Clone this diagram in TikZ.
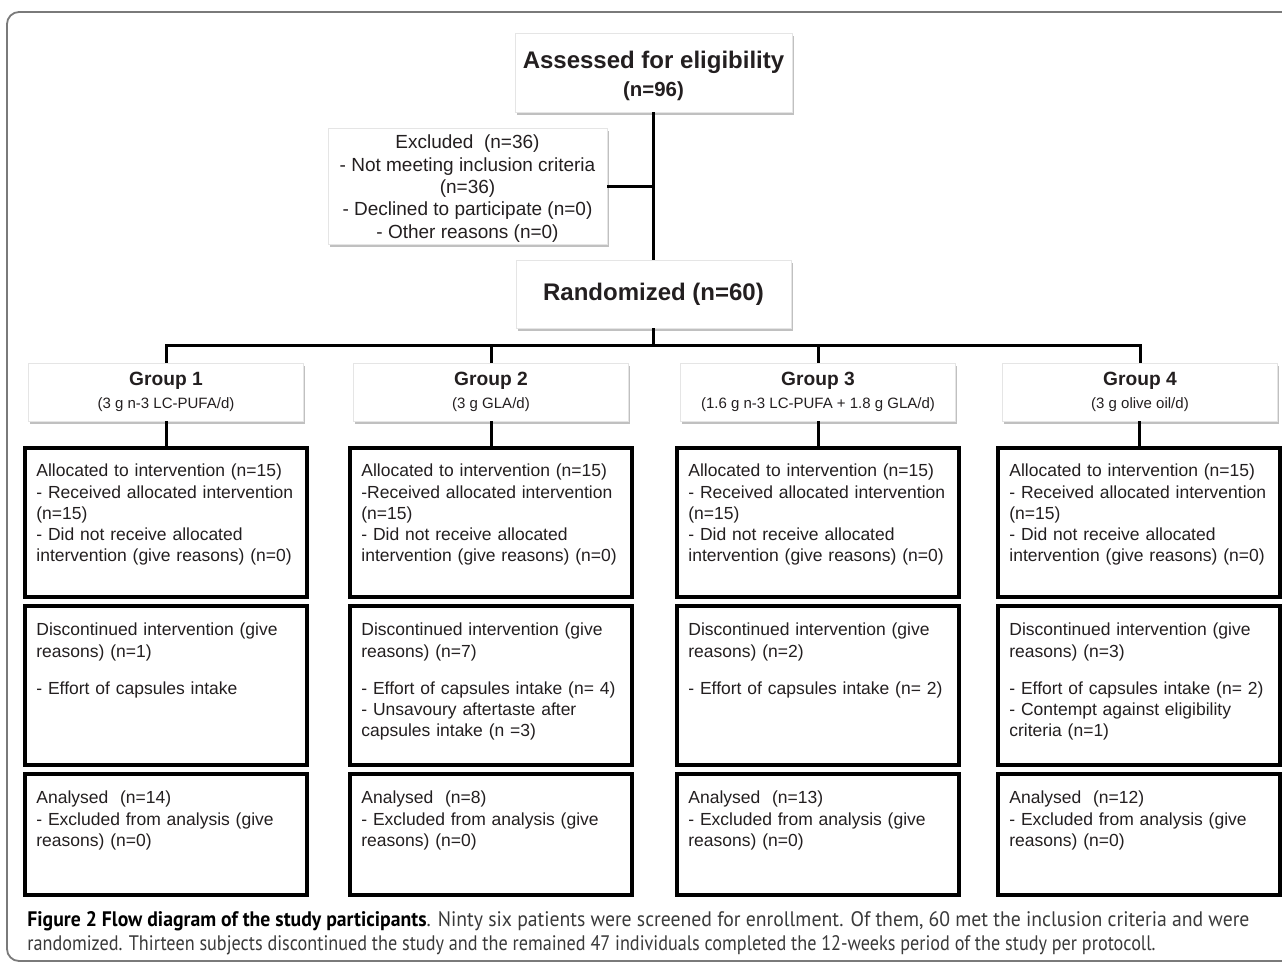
\documentclass[tikz,border=0pt]{standalone}
\usepackage{fontspec}
\setmainfont{Liberation Sans}
\newfontfamily\capfont{PT Sans}
\usepackage{graphicx}
\usetikzlibrary{shadows}
\definecolor{ink}{HTML}{231F20}
\definecolor{capink}{HTML}{3A3A3A}
\definecolor{framegray}{HTML}{7A7A7A}

\begin{document}
\begin{tikzpicture}[x=0.5pt, y=-0.5pt, >=stealth,
	soft/.style={rectangle, draw=black!10, line width=0.4pt, fill=white, text=ink, align=center, inner sep=0pt,
		drop shadow={shadow xshift=0.9pt, shadow yshift=-1.4pt, opacity=0.35, fill=black!70}},
	grp/.style={soft, minimum width=137.5pt, minimum height=29pt, font=\fontsize{7.5}{11.5}\selectfont},
	stage/.style={rectangle, draw=black, line width=1.8pt, anchor=north, text=ink, align=left,
		text width=129.6pt, inner xsep=5.7pt, inner ysep=0pt, font=\fontsize{8.75}{10.6}\selectfont},
	link/.style={draw=black, line width=1.5pt}]

	\path[use as bounding box, fill=white] (0,0) rectangle (1282,965);
	\clip (0,0) rectangle (1282,965);
	\draw[framegray, line width=0.9pt, rounded corners=6pt] (7,12) rectangle (1300,961);

	% top of the flow
	\node[soft, minimum width=138.5pt, minimum height=39.5pt, font=\fontsize{10.2}{13}\selectfont]
	(ass) at (653.5,72.5) {\rule{0pt}{12pt}{\fontsize{12}{14}\selectfont\bfseries Assessed for eligibility}\\[1pt]\bfseries (n=96)};
	\node[soft, minimum width=139.5pt, minimum height=58pt, font=\fontsize{9.5}{11.2}\selectfont]
	(exc) at (467.5,186) {\rule{0pt}{9.5pt}Excluded~ (n=36)\\- Not meeting inclusion criteria\\(n=36)\\
		- Declined to participate (n=0)\\- Other reasons (n=0)};
	\node[soft, minimum width=137.5pt, minimum height=34pt, font=\fontsize{12}{14}\selectfont\bfseries]
	(ran) at (653.5,294) {Randomized (n=60)};

	% groups
	\node[grp] (g1) at (166,392) {{\fontsize{9.6}{11.5}\selectfont\bfseries Group 1}\\(3 g n-3 LC-PUFA/d)};
	\node[grp] (g2) at (491,392) {{\fontsize{9.6}{11.5}\selectfont\bfseries Group 2}\\(3 g GLA/d)};
	\node[grp] (g3) at (818,392) {{\fontsize{9.6}{11.5}\selectfont\bfseries Group 3}\\(1.6 g n-3 LC-PUFA + 1.8 g GLA/d)};
	\node[grp] (g4) at (1140,392) {{\fontsize{9.6}{11.5}\selectfont\bfseries Group 4}\\(3 g olive oil/d)};

	% allocation
	\node[stage, text height=14.5pt, text depth=60pt] (al1) at (166,446)
	{Allocated to intervention (n=15)\\- Received allocated intervention\\(n=15)\\- Did not receive allocated\\intervention (give reasons) (n=0)};
	\node[stage, text height=14.5pt, text depth=60pt] (al2) at (491,446)
	{Allocated to intervention (n=15)\\-Received allocated intervention\\(n=15)\\- Did not receive allocated\\intervention (give reasons) (n=0)};
	\node[stage, text height=14.5pt, text depth=60pt] (al3) at (818,446)
	{Allocated to intervention (n=15)\\- Received allocated intervention\\(n=15)\\- Did not receive allocated\\intervention (give reasons) (n=0)};
	\node[stage, text height=14.5pt, text depth=60pt] (al4) at (1139,446)
	{Allocated to intervention (n=15)\\- Received allocated intervention\\(n=15)\\- Did not receive allocated\\intervention (give reasons) (n=0)};

	% follow-up
	\node[stage, text height=15pt, text depth=64.5pt] (di1) at (166,604)
	{Discontinued intervention (give\\reasons) (n=1)\\[8pt]- Effort of capsules intake};
	\node[stage, text height=15pt, text depth=64.5pt] (di2) at (491,604)
	{Discontinued intervention (give\\reasons) (n=7)\\[8pt]- Effort of capsules intake (n= 4)\\- Unsavoury aftertaste after\\capsules intake (n =3)};
	\node[stage, text height=15pt, text depth=64.5pt] (di3) at (818,604)
	{Discontinued intervention (give\\reasons) (n=2)\\[8pt]- Effort of capsules intake (n= 2)};
	\node[stage, text height=15pt, text depth=64.5pt] (di4) at (1139,604)
	{Discontinued intervention (give\\reasons) (n=3)\\[8pt]- Effort of capsules intake (n= 2)\\- Contempt against eligibility\\criteria (n=1)};

	% analysis
	\node[stage, text height=15pt, text depth=45.5pt] (an1) at (166,772)
	{Analysed~ (n=14)\\- Excluded from analysis (give\\reasons) (n=0)};
	\node[stage, text height=15pt, text depth=45.5pt] (an2) at (491,772)
	{Analysed~ (n=8)\\- Excluded from analysis (give\\reasons) (n=0)};
	\node[stage, text height=15pt, text depth=45.5pt] (an3) at (818,772)
	{Analysed~ (n=13)\\- Excluded from analysis (give\\reasons) (n=0)};
	\node[stage, text height=15pt, text depth=45.5pt] (an4) at (1139,772)
	{Analysed~ (n=12)\\- Excluded from analysis (give\\reasons) (n=0)};

	% connectors
	\draw[link] (ass.south) -- (ran.north);
	\draw[link] (exc.east) -- (exc.east -| ass.south);
	\coordinate (bus) at (653.5,345);
	\draw[link] (ran.south) -- (bus);
	\draw[link] (g1.north) |- (bus) -| (g4.north);
	\draw[link] (g2.north) -- (g2.north |- bus);
	\draw[link] (g3.north) -- (g3.north |- bus);
	\draw[link] (g1.south) -- (al1.north);
	\draw[link] (g2.south) -- (al2.north);
	\draw[link] (g3.south) -- (al3.north);
	\draw[link] (g4.south -| al4.north) -- (al4.north);

	% caption
	\node[anchor=west, align=left, text=capink, inner sep=0pt, font=\capfont\fontsize{10.5}{12}\selectfont]
	(cap) at (27,933)
	{\resizebox{611pt}{\height}{{\color{black}\bfseries Figure 2 Flow diagram of the study participants}. Ninty six patients were screened for enrollment. Of them, 60 met the inclusion criteria and were}\\
		\resizebox{564pt}{\height}{randomized. Thirteen subjects discontinued the study and the remained 47 individuals completed the 12-weeks period of the study per protocoll.}};
\end{tikzpicture}
\end{document}
